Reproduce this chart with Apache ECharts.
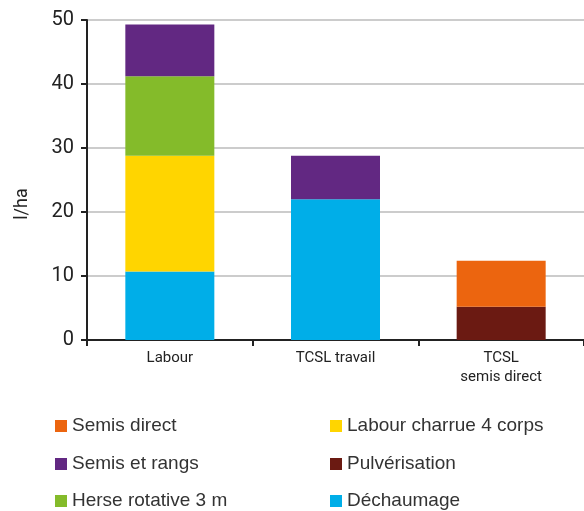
<!DOCTYPE html>
<html><head><meta charset="utf-8">
<script src="https://cdn.jsdelivr.net/npm/echarts@6/dist/echarts.min.js"></script>
<style>html,body{margin:0;padding:0;background:#fff}#c{width:584px;height:511px}</style>
</head><body><div id="c"></div>
<script>
var categories = ['Labour', 'TCSL travail', 'TCSL\nsemis direct'];
var yTicks = [0, 10, 20, 30, 40, 50];
var dechaumage = [10.7, 22, null];
var pulverisation = [null, null, 5.2];
var labourCharrue = [18.1, null, null];
var herseRotative = [12.4, null, null];
var semisRangs = [8.1, 6.8, null];
var semisDirect = [null, null, 7.2];

var colors = {
  'Déchaumage': '#00AEE8',
  'Pulvérisation': '#6B1A12',
  'Labour charrue 4 corps': '#FFD500',
  'Herse rotative 3 m': '#84BB2A',
  'Semis et rangs': '#622882',
  'Semis direct': '#EC650F'
};
var seriesDefs = [
  ['Déchaumage', dechaumage],
  ['Pulvérisation', pulverisation],
  ['Labour charrue 4 corps', labourCharrue],
  ['Herse rotative 3 m', herseRotative],
  ['Semis et rangs', semisRangs],
  ['Semis direct', semisDirect]
];
var legendLayout = [
  ['Semis direct', 55, 425], ['Labour charrue 4 corps', 330, 425],
  ['Semis et rangs', 55, 463], ['Pulvérisation', 330, 463],
  ['Herse rotative 3 m', 55, 500], ['Déchaumage', 330, 500]
];
var font = "Roboto, 'Liberation Sans', sans-serif";
var legendText = {fontFamily: "'Liberation Sans', Arial, sans-serif", fontSize: 19, color: '#333', lineHeight: 20};
var chart = echarts.init(document.getElementById('c'));
chart.setOption({
  animation: false,
  color: seriesDefs.map(function(d){return colors[d[0]];}),
  grid: {left: 87, right: -10, top: 20, bottom: 171, containLabel: false},
  legend: legendLayout.map(function(l){
    return {data: [l[0]], left: l[1], top: l[2] - 9, padding: 0, icon: 'rect',
      itemWidth: 12, itemHeight: 12, itemGap: 9, textStyle: legendText, selectedMode: false};
  }),
  graphic: [{
    type: 'text', x: 13, y: 204, rotation: Math.PI / 2,
    style: {text: 'l/ha', font: "18px Roboto, 'Liberation Sans', sans-serif", fill: '#222',
      textAlign: 'center', textVerticalAlign: 'top'}
  }],
  xAxis: {
    type: 'category', data: categories,
    axisLine: {lineStyle: {color: '#222', width: 2}},
    axisTick: {show: true, length: 6, lineStyle: {color: '#222', width: 2}},
    axisLabel: {fontFamily: font, fontSize: 15, color: '#222', margin: 9, lineHeight: 19}
  },
  yAxis: {
    type: 'value', min: yTicks[0], max: yTicks[yTicks.length-1], interval: 10,
    axisLine: {show: true, lineStyle: {color: '#222', width: 2}},
    axisTick: {show: true, length: 6, lineStyle: {color: '#222', width: 2}},
    axisLabel: {fontFamily: font, fontSize: 20, color: '#222', margin: 13},
    splitLine: {lineStyle: {color: '#ccc', width: 2}}
  },
  series: seriesDefs.map(function(d){
    return {name: d[0], type: 'bar', stack: 'total', data: d[1], barWidth: 89};
  })
});
</script></body></html>
